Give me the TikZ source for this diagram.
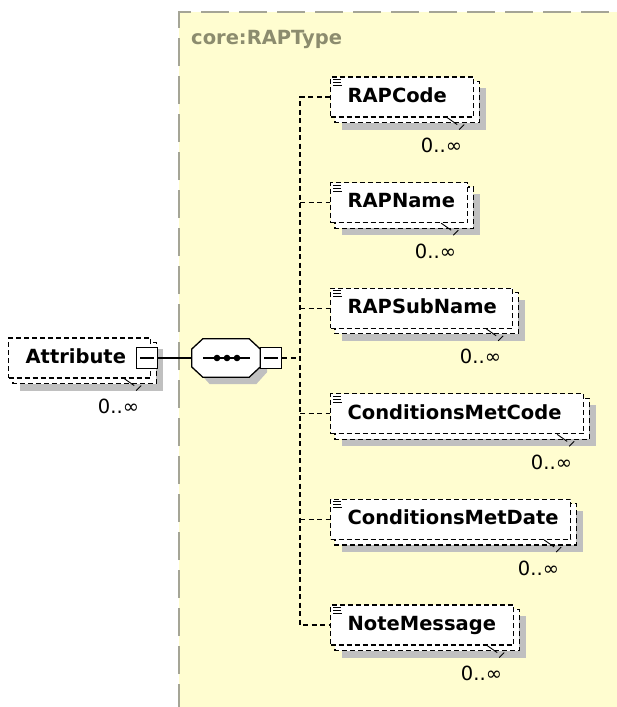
\documentclass[tikz,border=0pt]{standalone}
\usepackage{fontspec}
\setmainfont{DejaVu Sans}
\usetikzlibrary{calc}
\pgfdeclarelayer{back}\pgfdeclarelayer{shad}\pgfdeclarelayer{mid}
\pgfsetlayers{back,shad,mid,main}
\definecolor{ybg}{RGB}{255,253,208}
\definecolor{yborder}{RGB}{165,165,150}
\definecolor{typecol}{RGB}{140,140,110}
\definecolor{shadowgray}{RGB}{192,192,192}
\tikzset{
  elemline/.style={draw=black, line width=1.2pt, dash pattern=on 5pt off 3pt},
  elem/.style={elemline, fill=white, font=\bfseries\fontsize{19.5}{23}\selectfont,
    minimum height=40, inner xsep=0, text height=14.5, text depth=4, align=left, anchor=west},
  mult/.style={font=\fontsize{19.5}{23}\selectfont, inner sep=0, anchor=east},
  conn/.style={draw=black, line width=1.2pt, dash pattern=on 5pt off 3.5pt},
  solidconn/.style={draw=black, line width=1.3pt},
  btn/.style={draw=black, line width=1.2pt, fill=white, minimum size=21, inner sep=0},
  ticks/.style={draw=black, line width=0.9pt},
}
\newcommand\xelem[4]{%
  \node[elem, text width=#3] (#1) at (#2) {\hspace*{17pt}#4};
  \begin{pgfonlayer}{shad}
    \fill[shadowgray] ($(#1.north west)+(12,12)$) rectangle ($(#1.south east)+(12,12)$);
  \end{pgfonlayer}
  \begin{pgfonlayer}{mid}
    \draw[elemline, fill=white] ($(#1.north west)+(5,5)$) rectangle ($(#1.south east)+(5,5)$);
  \end{pgfonlayer}
  \draw[line width=0.8pt] ($(#1.north west)+(3,3)$) -- +(8,0)
    ($(#1.north west)+(3,6)$) -- +(8,0) ($(#1.north west)+(3,9)$) -- +(9,0);
  \draw[ticks] ($(#1.south east)+(-27,0)$) -- +(10,7);
  \draw[ticks] ($(#1.south east)+(-10,7)$) -- +(-5,5);
  \node[mult] (#1m) at ($(#1.south east)+(-12,28)$) {0..∞};
}
\begin{document}
\begin{tikzpicture}[x=1pt,y=-1pt]
\useasboundingbox (0,0) rectangle (617,707);
\begin{pgfonlayer}{back}
  \fill[white] (0,0) rectangle (617,707);
  \fill[ybg] (179,12) rectangle (630,712);
  \draw[yborder, line width=1.8pt, dash pattern=on 28pt off 10pt] (179,712) -- (179,12) -- (630,12);
\end{pgfonlayer}
\node[anchor=base west, font=\bfseries\fontsize{19.5}{23}\selectfont, text=typecol, inner sep=0] (tname) at (191,44) {core:RAPType};

% Attribute element
\node[elem, text width=142] (attr) at (8,358) {\hspace*{17pt}Attribute};
\begin{pgfonlayer}{shad}
  \fill[shadowgray] ($(attr.north west)+(12,12)$) rectangle ($(attr.south east)+(12,12)$);
\end{pgfonlayer}
\begin{pgfonlayer}{mid}
  \draw[elemline, fill=white] ($(attr.north west)+(5,5)$) rectangle ($(attr.south east)+(5,5)$);
\end{pgfonlayer}
\draw[ticks] ($(attr.south east)+(-27,0)$) -- +(10,7);
\draw[ticks] ($(attr.south east)+(-10,7)$) -- +(-5,5);
\node[mult] (attrm) at ($(attr.south east)+(-12,28)$) {0..∞};
\node[btn] (abtn) at (147,358) {};
\draw[line width=1.2pt] ($(abtn.center)+(-7,0)$) -- ($(abtn.center)+(7,0)$);

% sequence compositor
\node[minimum width=68, minimum height=38, inner sep=0] (seq) at (226,358) {};
\begin{pgfonlayer}{shad}
  \fill[shadowgray] ($(seq.west)+(7,-8)$) -- ($(seq.north west)+(18,7)$) -- ($(seq.north east)+(-4,7)$) -- ($(seq.east)+(7,-8)$) -- ($(seq.east)+(7,14)$) -- ($(seq.south east)+(-4,7)$) -- ($(seq.south west)+(18,7)$) -- ($(seq.west)+(7,14)$) -- cycle;
\end{pgfonlayer}
\draw[solidconn, fill=white] ($(seq.west)+(0,-9)$) -- ($(seq.north west)+(11,0)$) -- ($(seq.north east)+(-11,0)$) -- ($(seq.east)+(0,-9)$) -- ($(seq.east)+(0,9)$) -- ($(seq.south east)+(-11,0)$) -- ($(seq.south west)+(11,0)$) -- ($(seq.west)+(0,9)$) -- cycle;
\draw[solidconn] ($(seq.center)+(-23,0)$) -- ($(seq.center)+(24,0)$);
\foreach \dx in {-9,1,11} \fill ($(seq.center)+(\dx,0)$) circle (3.3);
\node[btn, anchor=west] (sbtn) at (seq.east) {};
\draw[line width=1.2pt] ($(sbtn.center)+(-7,0)$) -- ($(sbtn.center)+(7,0)$);
\draw[solidconn] (abtn.east) -- (seq.west);

% children
\xelem{c1}{330,97}{143}{RAPCode}
\xelem{c2}{330,202.6}{137}{RAPName}
\xelem{c3}{330,308.2}{182}{RAPSubName}
\xelem{c4}{330,413.8}{253}{ConditionsMetCode}
\xelem{c5}{330,519.4}{240}{ConditionsMetDate}
\xelem{c6}{330,625}{183}{NoteMessage}

\coordinate (spt) at (300,97);
\draw[conn] (c1.west) -- (c1.west -| spt) -- (c6.west -| spt) -- (c6.west);
\foreach \c in {c2,c3,c4,c5} \draw[conn] (\c.west -| spt) -- (\c.west);
\draw[conn] (sbtn.east) -- (sbtn.east -| spt);
\end{tikzpicture}
\end{document}
